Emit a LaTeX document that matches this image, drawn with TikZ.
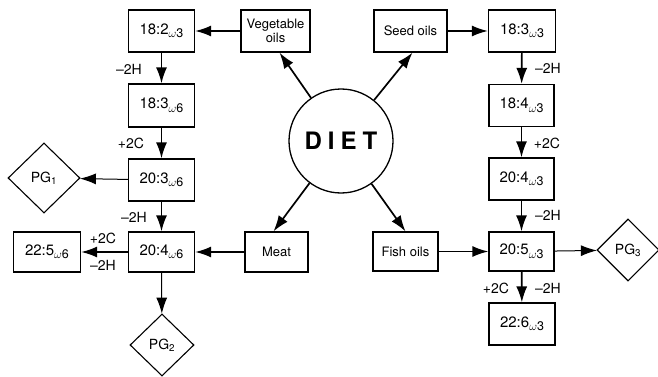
\documentclass[tikz,border=0pt]{standalone}
\usepackage{fontspec}
\setmainfont{TeX Gyre Heros}
\usetikzlibrary{arrows.meta,shapes.geometric}
\newcommand\wsub[1]{\raisebox{-0.45ex}{\fontsize{12.5}{13}\selectfont$\omega$#1}}
\begin{document}
\begin{tikzpicture}[x=1pt,y=-1pt,
  fa/.style={draw,line width=1.2pt,minimum width=66pt,minimum height=42pt,inner sep=1pt,font=\fontsize{15}{17}\selectfont},
  src/.style={draw,line width=1.2pt,minimum height=42pt,inner sep=1pt,align=center,font=\fontsize{13}{15}\selectfont},
  pg/.style={draw,diamond,line width=1.1pt,inner sep=0pt,font=\fontsize{14}{16}\selectfont},
  arr/.style={line width=1.7pt,-{Latex[length=16pt,width=11pt]}},
  tarr/.style={line width=1pt,-{Latex[length=16pt,width=11pt]}},
  lab/.style={font=\fontsize{14}{16}\selectfont,inner sep=0pt}]
\useasboundingbox (0,0) rectangle (658,377);
% DIET
\node[draw,circle,line width=1.3pt,minimum size=104pt,inner sep=0pt,font=\fontsize{24}{26}\bfseries\selectfont] (diet) at (341,141) {D\hspace{6pt}I\hspace{6pt}E\hspace{6pt}T};
% left
\node[fa] (a1) at (161.5,31) {18:2\wsub{3}};
\node[fa,minimum height=43pt] (a2) at (161.5,105.5) {18:3\wsub{6}};
\node[fa] (a3) at (161.5,180) {20:3\wsub{6}};
\node[fa,minimum height=40pt] (a4) at (161.5,252) {20:4\wsub{6}};
\node[fa,minimum width=67pt,minimum height=40pt] (a5) at (47,252) {22:5\wsub{6}};
\node[src,minimum width=69pt] (veg) at (275.5,31) {Vegetable\\[-1pt]oils};
\node[src,minimum width=63pt,minimum height=40pt] (meat) at (276.5,252) {Meat};
\node[pg,minimum width=72pt,minimum height=70pt] (pg1) at (44,178) {PG\textsubscript{1}};
\node[pg,minimum width=64pt,minimum height=62pt] (pg2) at (162,345) {PG\textsubscript{2}};
% right
\node[src,minimum width=73pt] (seed) at (410.5,31) {Seed oils};
\node[src,minimum width=65pt,minimum height=39pt] (fish) at (405.5,251.5) {Fish oils};
\node[fa,minimum width=67pt] (b1) at (522,31) {18:3\wsub{3}};
\node[fa,minimum width=65pt] (b2) at (521.5,105.5) {18:4\wsub{3}};
\node[fa,minimum width=65pt] (b3) at (521.5,179) {20:4\wsub{3}};
\node[fa,minimum width=65pt,minimum height=39pt] (b4) at (521.5,251.5) {20:5\wsub{3}};
\node[fa] (b5) at (522,324) {22:6\wsub{3}};
\node[pg,minimum width=62pt,minimum height=62pt] (pg3) at (628,250) {PG\textsubscript{3}};
% diet arrows
\draw[arr] (diet) -- ([xshift=4pt]veg.south);
\draw[arr] (diet) -- ([xshift=2pt]seed.south);
\draw[arr] (diet) -- ([xshift=-3pt]meat.north);
\draw[arr] (diet) -- (fish.north);
% left chain
\draw[arr] (veg) -- (a1);
\draw[arr] (a1) -- (a2);
\draw[arr] (a2) -- (a3);
\draw[tarr] (a3) -- (pg1);
\draw[arr] (a3) -- (a4);
\draw[arr] (a4) -- (a5);
\draw[arr] (meat) -- (a4);
\draw[tarr] (a4) -- (pg2);
% right chain
\draw[arr] (seed) -- (b1);
\draw[arr] (b1) -- (b2);
\draw[arr] (b2) -- (b3);
\draw[arr] (b3) -- (b4);
\draw[arr] (fish) -- (b4);
\draw[tarr] (b4) -- (pg3);
\draw[arr] (b4) -- (b5);
% labels
\node[lab] (l1) at (129,69) {–2H};
\node[lab] (l2) at (131,143) {+2C};
\node[lab] (l3) at (134,217) {–2H};
\node[lab] (l4) at (103,238) {+2C};
\node[lab] (l5) at (103,265) {–2H};
\node[lab] (r1) at (548,68) {–2H};
\node[lab] (r2) at (547,143) {+2C};
\node[lab] (r3) at (548,215) {–2H};
\node[lab] (r4) at (496,288) {+2C};
\node[lab] (r5) at (548,288) {–2H};
\end{tikzpicture}
\end{document}
